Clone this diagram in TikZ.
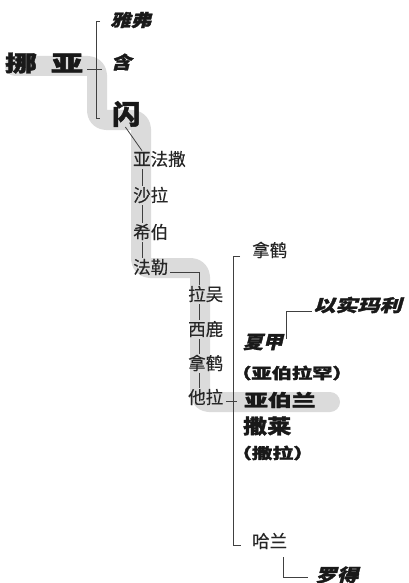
\documentclass[tikz,border=0pt]{standalone}
\usepackage{fontspec}
\newfontfamily\cjk{Noto Sans CJK SC}[FakeBold=0.3]
\newfontfamily\cjkh{Noto Sans CJK SC}[FakeBold=1.6]
\newfontfamily\cjksl{Noto Sans CJK SC}[FakeSlant=0.22, FakeBold=1.6]
\newcommand\hvt[3]{{\fontsize{#1}{#1}\selectfont\scalebox{#2}[1]{#3}}}
\tikzset{
  band/.style={line width=20pt, draw=black!14, line cap=round, line join=round, rounded corners=9pt},
  conn/.style={draw=black!75, line width=0.8pt},
  reg/.style={font=\cjk\fontsize{17.5}{17.5}\selectfont, inner sep=0pt, anchor=west, text=black!85},
  hv/.style={font=\cjkh\bfseries, inner sep=0pt, anchor=west, text=black!90},
  hvsl/.style={font=\cjksl\bfseries, inner sep=0pt, anchor=west, text=black!90},
}
\begin{document}
\begin{tikzpicture}[x=1pt,y=-1pt]
\useasboundingbox (0,0) rectangle (408,583);
% gray band
\draw[band] (15,66) -- (97,66) -- (97,120) -- (141,120) -- (141,268) -- (200,268) -- (200,402) -- (330,402);

% Noah
\node[hv] (nuo) at (5,63) {\hvt{22}{1.45}{挪}};
\node[hv] (ya) at (51,63) {\hvt{22}{1.45}{亚}};
\node[hvsl] (yafu) at (110,20) {\hvt{17}{1.2}{雅弗}};
\node[hvsl] (han) at (111,62) {\hvt{17.5}{1.15}{含}};
\node[hv] (shan) at (112,114) {\hvt{27}{1.05}{闪}};
\coordinate (brtop) at (96,21);
\coordinate (brbot) at (96,118);
\draw[conn] ([xshift=4pt]brtop) -- (brtop) -- (brbot) -- ([xshift=4pt]brbot);
\draw[conn] ([xshift=4pt,yshift=-6pt]ya.east) -- ([xshift=19pt,yshift=-6pt]ya.east);

% Shem line
\node[reg] (yafasa) at (133,159) {亚法撒};
\node[reg] (shala) at (133,195) {沙拉};
\node[reg] (xibo) at (133,232) {希伯};
\node[reg] (fale) at (133,267) {法勒};
\draw[conn] ([xshift=-1pt]shan.south) -- ([xshift=9pt]yafasa.north west);
\draw[conn] ([xshift=9pt,yshift=-2pt]yafasa.south west) -- ([xshift=9pt,yshift=1pt]shala.north west);
\draw[conn] ([xshift=9pt,yshift=-2pt]shala.south west) -- ([xshift=9pt,yshift=1pt]xibo.north west);
\draw[conn] ([xshift=9pt,yshift=-2pt]xibo.south west) -- ([xshift=9pt,yshift=1pt]fale.north west);

\node[reg] (lawu) at (188,294) {拉吴};
\node[reg] (xilu) at (188,329) {西鹿};
\node[reg] (nahe) at (188,363) {拿鹤};
\node[reg] (tala) at (188,397) {他拉};
\coordinate (faleend) at ([xshift=2pt,yshift=-5pt]fale.east);
\draw[conn] (faleend) -- (faleend -| 199,0) -- ([xshift=11pt,yshift=1pt]lawu.north west);
\draw[conn] ([xshift=11pt,yshift=-2pt]lawu.south west) -- ([xshift=11pt,yshift=1pt]xilu.north west);
\draw[conn] ([xshift=11pt,yshift=-2pt]xilu.south west) -- ([xshift=11pt,yshift=1pt]nahe.north west);
\draw[conn] ([xshift=11pt,yshift=-2pt]nahe.south west) -- ([xshift=11pt,yshift=1pt]tala.north west);

% Terah's sons
\coordinate (btop) at (233,256);
\coordinate (bbot) at (233,545);
\draw[conn] ([xshift=7pt]btop) -- (btop) -- (bbot) -- ([xshift=8pt]bbot);
\draw[conn] ([xshift=3pt,yshift=-4pt]tala.east) -- ([xshift=14pt,yshift=-4pt]tala.east);

\node[reg] (nahe2) at (252,250) {拿鹤};
\node[hvsl] (yishimali) at (313,305) {\hvt{17}{1.3}{以实玛利}};
\node[hvsl] (xiajia) at (243,342) {\hvt{18}{1.1}{夏甲}};
\coordinate (xjtop) at ([xshift=3pt,yshift=-5pt]xiajia.north east);
\draw[conn] (xjtop) -- (xjtop |- 0,311) -- ([xshift=-1pt]yishimali.west |- 0,311);
\node[hv] (yabolahan) at (231,373) {\hvt{15}{1.35}{（亚伯拉罕）}};
\node[hv] (yabolan) at (244,400) {\hvt{17}{1.4}{亚伯兰}};
\node[hv] (shalai) at (243,426) {\hvt{20}{1.2}{撒莱}};
\node[hv] (sala) at (231,453) {\hvt{15}{1.38}{（撒拉）}};
\node[reg] (halan) at (252,541) {哈兰};
\node[hvsl] (luode) at (315,575) {\hvt{18}{1.2}{罗得}};
\coordinate (hltop) at (283,557);
\draw[conn] (hltop) -- (hltop |- 0,577) -- ([xshift=-7pt]luode.west |- 0,577);
\end{tikzpicture}
\end{document}
